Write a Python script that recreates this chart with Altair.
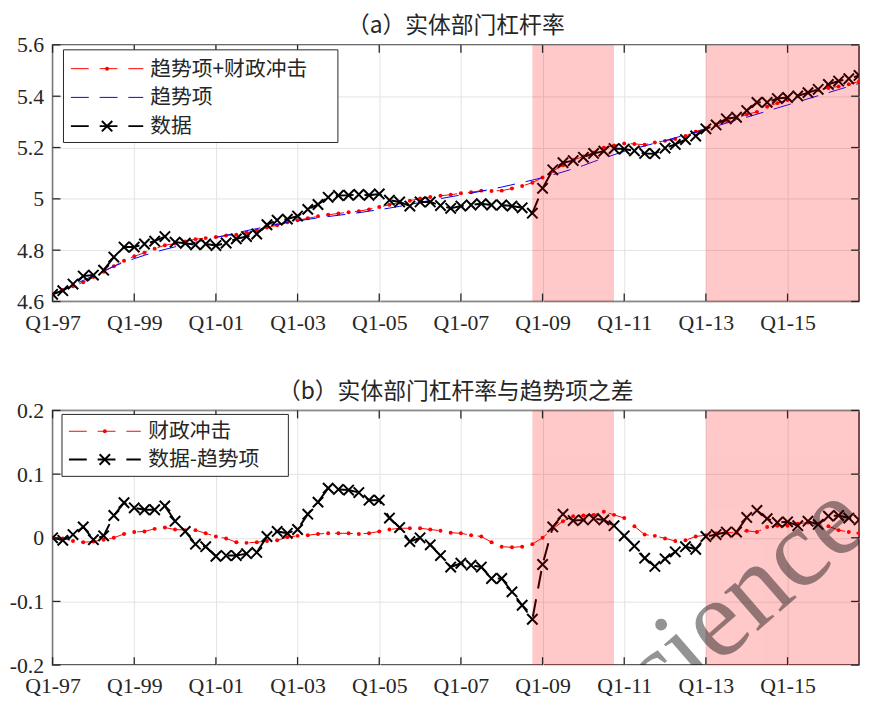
import altair as alt
import pandas as pd

# ---------------- data ----------------
quarters = list(range(80))  # Q1-97 ... Q4-16
tick_pos = [0, 8, 16, 24, 32, 40, 48, 56, 64, 72]
tick_labels = ["Q1-97", "Q1-99", "Q1-01", "Q1-03", "Q1-05",
               "Q1-07", "Q1-09", "Q1-11", "Q1-13", "Q1-15"]

data_top = [4.628, 4.642, 4.668, 4.699, 4.703, 4.722, 4.773, 4.812, 4.812, 4.824,
            4.835, 4.853, 4.831, 4.827, 4.821, 4.824, 4.818, 4.828, 4.844, 4.853,
            4.863, 4.899, 4.917, 4.921, 4.933, 4.959, 4.978, 5.006, 5.013, 5.014,
            5.017, 5.014, 5.019, 4.995, 4.988, 4.972, 4.988, 4.988, 4.974, 4.963,
            4.972, 4.976, 4.981, 4.976, 4.976, 4.972, 4.965, 4.944, 5.041, 5.113,
            5.141, 5.149, 5.162, 5.177, 5.186, 5.196, 5.194, 5.187, 5.177, 5.176,
            5.198, 5.212, 5.231, 5.245, 5.273, 5.288, 5.312, 5.318, 5.344, 5.376,
            5.376, 5.391, 5.395, 5.401, 5.414, 5.427, 5.446, 5.459, 5.468, 5.481]

trend_top = [4.628, 4.646, 4.664, 4.682, 4.701, 4.719, 4.737, 4.753, 4.767, 4.780,
             4.792, 4.803, 4.813, 4.822, 4.831, 4.840, 4.849, 4.858, 4.867, 4.876,
             4.884, 4.893, 4.901, 4.908, 4.914, 4.920, 4.926, 4.931, 4.936, 4.941,
             4.946, 4.952, 4.958, 4.964, 4.971, 4.978, 4.986, 4.994, 5.001, 5.008,
             5.015, 5.022, 5.030, 5.038, 5.046, 5.055, 5.064, 5.073, 5.083, 5.094,
             5.105, 5.117, 5.130, 5.145, 5.158, 5.172, 5.185, 5.196, 5.206, 5.217,
             5.227, 5.238, 5.249, 5.260, 5.271, 5.283, 5.295, 5.307, 5.318, 5.330,
             5.342, 5.354, 5.366, 5.378, 5.390, 5.402, 5.414, 5.426, 5.438, 5.450]

fit_top = [4.628, 4.645, 4.659, 4.675, 4.695, 4.716, 4.737, 4.759, 4.776, 4.790,
           4.806, 4.819, 4.826, 4.834, 4.843, 4.847, 4.851, 4.857, 4.860, 4.868,
           4.877, 4.888, 4.897, 4.909, 4.917, 4.924, 4.932, 4.938, 4.943, 4.948,
           4.952, 4.959, 4.968, 4.977, 4.986, 4.993, 5.001, 5.007, 5.012, 5.016,
           5.022, 5.026, 5.032, 5.031, 5.032, 5.040, 5.050, 5.063, 5.083, 5.108,
           5.131, 5.151, 5.165, 5.181, 5.199, 5.208, 5.216, 5.214, 5.211, 5.220,
           5.226, 5.233, 5.245, 5.262, 5.275, 5.290, 5.303, 5.315, 5.329, 5.339,
           5.359, 5.373, 5.385, 5.400, 5.414, 5.424, 5.432, 5.438, 5.447, 5.457]

gap_bottom = [0.000, -0.004, 0.005, 0.017, -0.003, 0.003, 0.035, 0.055, 0.047, 0.044,
              0.044, 0.050, 0.026, 0.010, -0.010, -0.014, -0.029, -0.028, -0.028, -0.025,
              -0.023, 0.002, 0.010, 0.007, 0.013, 0.037, 0.056, 0.078, 0.076, 0.075,
              0.071, 0.059, 0.059, 0.031, 0.016, -0.006, 0.000, -0.011, -0.028, -0.046,
              -0.040, -0.043, -0.046, -0.064, -0.064, -0.085, -0.106, -0.128, -0.042, 0.017,
              0.037, 0.027, 0.028, 0.030, 0.028, 0.019, 0.003, -0.013, -0.032, -0.045,
              -0.033, -0.022, -0.014, -0.018, 0.002, 0.005, 0.009, 0.009, 0.032, 0.043,
              0.030, 0.024, 0.025, 0.019, 0.026, 0.021, 0.034, 0.035, 0.031, 0.028]

fiscal_bottom = [0.000, -0.001, -0.005, -0.007, -0.006, -0.003, 0.000, 0.006, 0.009, 0.010,
                 0.014, 0.016, 0.013, 0.012, 0.012, 0.007, 0.002, -0.001, -0.007, -0.008,
                 -0.007, -0.005, -0.004, 0.001, 0.003, 0.004, 0.006, 0.007, 0.007, 0.007,
                 0.006, 0.007, 0.010, 0.013, 0.015, 0.015, 0.015, 0.013, 0.011, 0.008,
                 0.007, 0.004, 0.002, -0.007, -0.014, -0.015, -0.014, -0.010, 0.000, 0.014,
                 0.026, 0.034, 0.035, 0.036, 0.041, 0.036, 0.031, 0.018, 0.005, 0.003,
                 -0.001, -0.005, -0.004, 0.002, 0.004, 0.007, 0.008, 0.008, 0.011, 0.009,
                 0.017, 0.019, 0.019, 0.022, 0.024, 0.022, 0.018, 0.012, 0.009, 0.007]

shade_start = [47, 64]
shade_end = [55, 79]

top_ticks = [4.6, 4.8, 5.0, 5.2, 5.4, 5.6]
bottom_ticks = [-0.2, -0.1, 0.0, 0.1, 0.2]

legend_top = ["趋势项+财政冲击", "趋势项", "数据"]
legend_bottom = ["财政冲击", "数据-趋势项"]
title_top = "（a）实体部门杠杆率"
title_bottom = "（b）实体部门杠杆率与趋势项之差"
watermark = "Science"

# ---------------- styling ----------------
W = 814
H1 = 259
H2 = 257
TXT = "#262626"
SERIF = "Liberation Serif"
CJK = "Noto Sans CJK SC"
XSHAPE = "M-1,-1L1,1M-1,1L1,-1"
DASH = [18, 11]
TICK = 8

df_top = pd.DataFrame({"t": quarters, "data": data_top, "trend": trend_top, "fit": fit_top})
df_bot = pd.DataFrame({"t": quarters, "gap": gap_bottom, "fiscal": fiscal_bottom})
df_shade = pd.DataFrame({"t": shade_start, "e": shade_end})
df_xt = pd.DataFrame({"t": tick_pos})
dummy = pd.DataFrame({"a": [0]})

label_expr = "[" + ",".join("'%s'" % s for s in tick_labels) + "][round(datum.value/8)]"
ylabel_expr = "datum.value < 0 ? '-' + format(-datum.value, '~g') : format(datum.value, '~g')"
xscale = alt.Scale(domain=[0, 79], nice=False, zero=False)
XAXIS = alt.Axis(values=tick_pos, labelExpr=label_expr, grid=True, ticks=False, domain=False,
                 labelPadding=11, title=None, labelFlush=False)


def X(field="t:Q"):
    return alt.X(field, scale=xscale, axis=XAXIS)


def panel(df, ycols, ydomain, yticks, H, title, legend_labels, series_styles, mark_text=None):
    yscale = alt.Scale(domain=ydomain, nice=False, zero=False)
    yaxis = alt.Axis(values=yticks, labelExpr=ylabel_expr, grid=True, ticks=False, domain=False,
                     labelPadding=9, title=None)

    def Y(field):
        return alt.Y(field, scale=yscale, axis=yaxis)

    layers = []
    for col, style in zip(ycols, series_styles):
        base = alt.Chart(df)
        layers.append(base.mark_line(color=style["color"], strokeWidth=style["lw"],
                                     strokeDash=DASH, clip=True).encode(x=X(), y=Y(col + ":Q")))
        if style["marker"] == "dot":
            layers.append(base.mark_circle(color=style["color"], size=16, opacity=1, clip=True)
                          .encode(x=X(), y=Y(col + ":Q")))
        elif style["marker"] == "x":
            layers.append(base.mark_point(shape=XSHAPE, filled=False, color=style["color"],
                                          strokeWidth=2, size=110, opacity=1, clip=True)
                          .encode(x=X(), y=Y(col + ":Q")))

    # shading (semi-transparent, on top of the lines)
    layers.append(alt.Chart(df_shade).mark_rect(color="#ff0000", opacity=0.21)
                  .encode(x=X(), x2="e:Q", y=alt.value(0), y2=alt.value(H)))

    # inward ticks
    df_yt = pd.DataFrame({"v": yticks})
    tk = dict(color=TXT, strokeWidth=1.3)
    layers.append(alt.Chart(df_xt).mark_rule(**tk).encode(
        x=X(), y=alt.value(H), y2=alt.value(H - TICK)))
    layers.append(alt.Chart(df_xt).mark_rule(**tk).encode(
        x=X(), y=alt.value(0), y2=alt.value(TICK)))
    layers.append(alt.Chart(df_yt).mark_rule(**tk).encode(
        y=Y("v:Q"), x=alt.value(0), x2=alt.value(TICK)))
    layers.append(alt.Chart(df_yt).mark_rule(**tk).encode(
        y=Y("v:Q"), x=alt.value(W), x2=alt.value(W - TICK)))

    # legend (drawn inside the plot, top-left)
    n = len(legend_labels)
    if n == 3:
        bx0, bx1, by0, by1, rowh, row0, lx0, lx1, tx = 11, 288, 5, 98.5, 29, 24, 18.5, 91.5, 98.5
    else:
        bx0, bx1, by0, by1, rowh, row0, lx0, lx1, tx = 9.5, 238, 4, 66.5, 28.5, 21, 16.5, 89, 96.5
    layers.append(alt.Chart(dummy).mark_rect(fill="white", stroke=TXT, strokeWidth=1)
                  .encode(x=alt.value(bx0), x2=alt.value(bx1), y=alt.value(by0), y2=alt.value(by1)))
    for k, (lab, style) in enumerate(zip(legend_labels, series_styles)):
        yy = row0 + k * rowh
        layers.append(alt.Chart(dummy).mark_rule(color=style["color"], strokeWidth=style["lw"],
                                                 strokeDash=DASH)
                      .encode(x=alt.value(lx0), x2=alt.value(lx1), y=alt.value(yy)))
        cx = (lx0 + lx1) / 2
        if style["marker"] == "dot":
            layers.append(alt.Chart(dummy).mark_circle(color=style["color"], size=16, opacity=1)
                          .encode(x=alt.value(cx), y=alt.value(yy)))
        elif style["marker"] == "x":
            layers.append(alt.Chart(dummy).mark_point(shape=XSHAPE, filled=False, color=style["color"],
                                                      strokeWidth=2, size=110, opacity=1)
                          .encode(x=alt.value(cx), y=alt.value(yy)))
        layers.append(alt.Chart(dummy).mark_text(align="left", baseline="middle", font=CJK,
                                                 fontSize=21, color=TXT)
                      .encode(x=alt.value(tx), y=alt.value(yy + 1), text=alt.value(lab)))

    if mark_text:
        layers.append(alt.Chart(dummy).mark_text(align="left", baseline="alphabetic", font=SERIF,
                                                 fontSize=113, angle=319, color="#000000",
                                                 opacity=0.42, clip=True)
                      .encode(x=alt.value(563), y=alt.value(352), text=alt.value(mark_text)))

    return alt.layer(*layers).properties(
        width=W, height=H,
        title=alt.Title(title, font=CJK, fontSize=23, fontWeight="normal", color=TXT,
                        anchor="middle", frame="group", offset=-4))


red = {"color": "#ff0000", "lw": 1, "marker": "dot"}
blue = {"color": "#0000ff", "lw": 1, "marker": None}
black = {"color": "#000000", "lw": 2, "marker": "x"}

top = panel(df_top, ["fit", "trend", "data"], [4.6, 5.6], top_ticks, H1, title_top,
            legend_top, [red, blue, black])
bottom = panel(df_bot, ["fiscal", "gap"], [-0.2, 0.2], bottom_ticks, H2, title_bottom,
               legend_bottom, [red, black], mark_text=watermark)

chart = alt.vconcat(top, bottom, spacing=46).properties(
    padding={"left": 0, "top": 3, "right": 0, "bottom": -2}
).configure_view(stroke=TXT, strokeWidth=1.5).configure_axis(
    labelFont=SERIF, labelFontSize=22, labelColor=TXT, gridColor="#e3e3e3", gridWidth=1
)

chart.save("out.html", embed_options={"renderer": "svg", "actions": False})
